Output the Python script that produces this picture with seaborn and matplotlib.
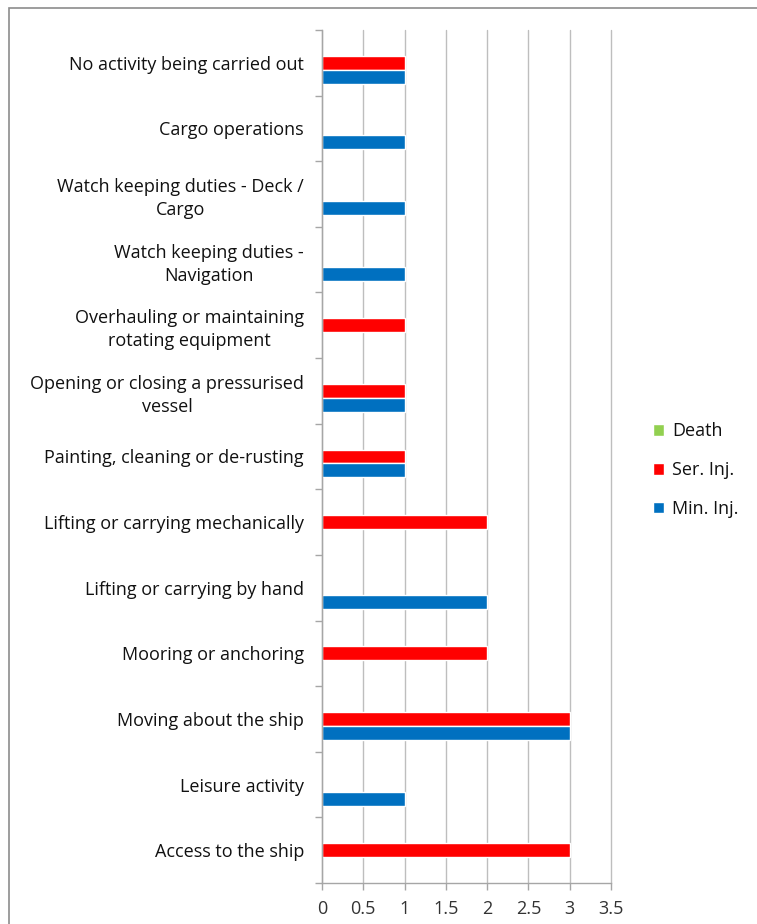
import pandas as pd
import numpy as np
import matplotlib.pyplot as plt
import seaborn as sns
from matplotlib.patches import Rectangle

# categories, top to bottom as in the chart
activities = [
    "No activity being carried out",
    "Cargo operations",
    "Watch keeping duties - Deck /\nCargo",
    "Watch keeping duties -\nNavigation",
    "Overhauling or maintaining\nrotating equipment",
    "Opening or closing a pressurised\nvessel",
    "Painting, cleaning or de-rusting",
    "Lifting or carrying mechanically",
    "Lifting or carrying by hand",
    "Mooring or anchoring",
    "Moving about the ship",
    "Leisure activity",
    "Access to the ship",
]
death = [0, 0, 0, 0, 0, 0, 0, 0, 0, 0, 0, 0, 0]
ser_inj = [1, 0, 0, 0, 1, 1, 1, 2, 0, 2, 3, 0, 3]
min_inj = [1, 1, 1, 1, 0, 1, 1, 0, 2, 0, 3, 1, 0]

series_names = ["Death", "Ser. Inj.", "Min. Inj."]
colors = ["#92D050", "#FF0000", "#0070C0"]
xticks = [0, 0.5, 1, 1.5, 2, 2.5, 3, 3.5]
xtick_labels = ["0", "0.5", "1", "1.5", "2", "2.5", "3", "3.5"]

df = pd.DataFrame({
    "Activity": activities * 3,
    "Series": np.repeat(series_names, len(activities)),
    "Count": death + ser_inj + min_inj,
})

sns.set_theme(style="white")
plt.rcParams['font.family'] = ['Open Sans', 'DejaVu Sans']

fig = plt.figure(figsize=(7.57, 9.24), dpi=100)
ax = fig.add_axes([322 / 757, 1 - 883 / 924, (611 - 322) / 757, (883 - 30) / 924])

sns.barplot(data=df, y="Activity", x="Count", hue="Series", hue_order=series_names,
            order=activities, palette=colors, orient="h", width=0.64, gap=0,
            saturation=1, errorbar=None, ax=ax)

ax.set_xlim(0, 3.5)
ax.set_ylim(len(activities) - 0.5, -0.5)
ax.set_xticks(xticks)
ax.set_xticklabels(xtick_labels)
ax.set_xlabel("")
ax.set_ylabel("")
ax.grid(axis="x", color="#BEBEBE", linewidth=1)
for gl in ax.get_xgridlines():
    gl.set_clip_on(False)
ax.set_axisbelow(True)

for side in ["top", "right"]:
    ax.spines[side].set_visible(False)
for side in ["left", "bottom"]:
    ax.spines[side].set_color("#A6A6A6")
    ax.spines[side].set_linewidth(1)

# tick marks between categories, labels centered on categories
ax.set_yticks(np.arange(len(activities) + 1) - 0.5, minor=True)
ax.tick_params(axis="y", which="major", length=0, pad=13, labelsize=13)
ax.tick_params(axis="y", which="minor", length=5, color="#A6A6A6", width=1, left=True)
ax.tick_params(axis="x", which="major", length=5, color="#A6A6A6", width=1, bottom=True,
               labelsize=13, pad=7, labelcolor="#333333")
for lbl in ax.get_yticklabels():
    lbl.set_multialignment("center")
    lbl.set_linespacing(1.35)
    lbl.set_color("#111111")

leg = ax.legend(loc="center left", bbox_to_anchor=(1.09, 0.484), frameon=False,
                fontsize=13, handlelength=0.6, handleheight=0.6, handletextpad=0.45,
                labelspacing=1.15)
for t in leg.get_texts():
    t.set_color("#111111")

# outer chart border
fig.patches.append(Rectangle((9 / 757, -0.1), 1.2, 1 - 8 / 924 + 0.1, transform=fig.transFigure,
                             fill=False, edgecolor="#8C8C8C", linewidth=1.2, clip_on=False))

fig.savefig("out.png", dpi=100)
